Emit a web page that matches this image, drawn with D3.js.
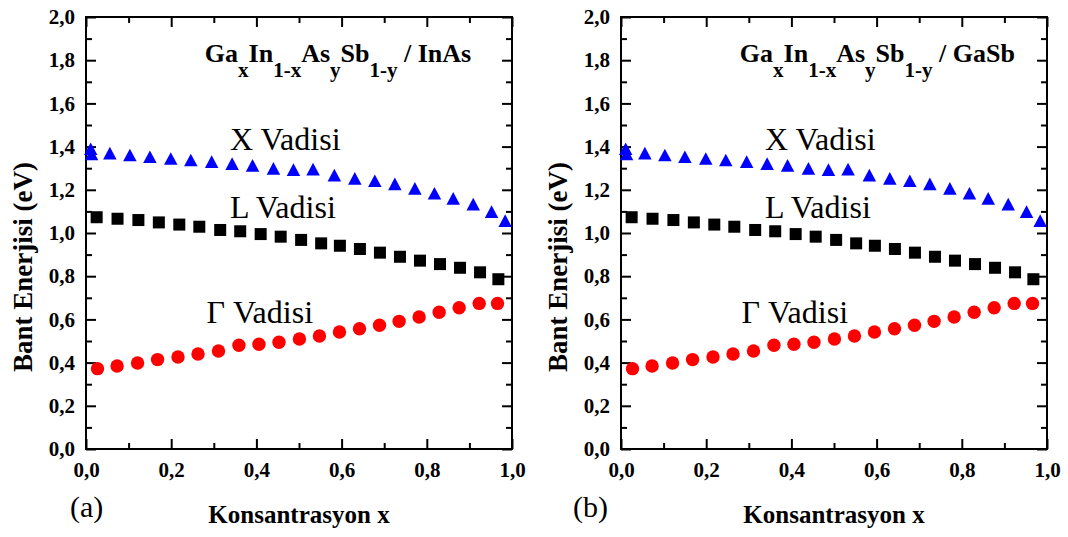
<!DOCTYPE html>
<html>
<head>
<meta charset="utf-8">
<script src="https://cdn.jsdelivr.net/npm/d3@7"></script>
<style>
  html, body { margin: 0; padding: 0; background: #fff; }
  svg { display: block; }
</style>
</head>
<body>
<svg id="chart" width="1068" height="537"></svg>
<script>
// ---------------- data ----------------
const xTicks = [0.0, 0.2, 0.4, 0.6, 0.8, 1.0];
const yTicks = [0.0, 0.2, 0.4, 0.6, 0.8, 1.0, 1.2, 1.4, 1.6, 1.8, 2.0];
const xMinor = [0.1, 0.3, 0.5, 0.7, 0.9];
const yMinor = [0.1, 0.3, 0.5, 0.7, 0.9, 1.1, 1.3, 1.5, 1.7, 1.9];

// X valley (blue triangles)
const xValleyConc = [0.011, 0.013, 0.056, 0.103, 0.150, 0.199, 0.246, 0.295, 0.343, 0.391, 0.440, 0.487,
                     0.533, 0.583, 0.631, 0.678, 0.725, 0.772, 0.818, 0.862, 0.909, 0.952, 0.984];
const xValleyE    = [1.390, 1.366, 1.370, 1.361, 1.353, 1.345, 1.338, 1.330, 1.321, 1.313, 1.299, 1.293,
                     1.296, 1.268, 1.253, 1.242, 1.227, 1.207, 1.184, 1.160, 1.134, 1.099, 1.057];
// L valley (black squares)
const lValleyConc = [0.025, 0.074, 0.123, 0.171, 0.219, 0.266, 0.315, 0.362, 0.410, 0.457, 0.505,
                     0.552, 0.596, 0.643, 0.690, 0.737, 0.784, 0.831, 0.878, 0.925, 0.968];
const lValleyE    = [1.073, 1.066, 1.060, 1.049, 1.039, 1.029, 1.014, 1.008, 0.995, 0.983, 0.968,
                     0.952, 0.941, 0.926, 0.909, 0.890, 0.872, 0.856, 0.839, 0.818, 0.786];
// Gamma valley (red circles)
const gValleyConc = [0.027, 0.073, 0.121, 0.168, 0.216, 0.263, 0.311, 0.359, 0.406, 0.453, 0.501,
                     0.548, 0.595, 0.642, 0.689, 0.735, 0.782, 0.829, 0.876, 0.923, 0.966];
const gValleyE    = [0.372, 0.384, 0.398, 0.414, 0.426, 0.440, 0.454, 0.480, 0.485, 0.494, 0.509,
                     0.523, 0.542, 0.557, 0.573, 0.591, 0.611, 0.633, 0.654, 0.674, 0.674];

const panelSubstrates = ["InAs", "GaSb"];
const panelTags = ["(a)", "(b)"];
const xAxisTitle = "Konsantrasyon x";
const yAxisTitle = "Bant Enerjisi (eV)";
const valleyLabels = ["X Vadisi", "L Vadisi", "\u0393 Vadisi"];

// ---------------- drawing ----------------
const svg = d3.select("#chart");
const serif = "'Liberation Serif', 'Times New Roman', Times, serif";
const fmt = d => d3.format(".1f")(d).replace(".", ",");

const plotW = 426, plotH = 432, plotTop = 17;
const panelLeft = [86, 621];

panelSubstrates.forEach((sub, i) => {
  const g = svg.append("g").attr("transform", `translate(${panelLeft[i]},${plotTop})`)
    .attr("font-family", serif);
  const x = d3.scaleLinear().domain([0, 1]).range([0, plotW]);
  const y = d3.scaleLinear().domain([0, 2]).range([plotH, 0]);

  const styleAxis = sel => {
    sel.attr("font-family", serif);
    sel.select(".domain").remove();
    sel.selectAll(".tick line").attr("stroke", "#000").attr("stroke-width", 2);
    sel.selectAll(".tick text").attr("font-family", serif).attr("font-weight", "bold")
       .attr("font-size", 21).attr("fill", "#000");
  };
  g.append("g").attr("transform", `translate(0,${plotH})`)
    .call(d3.axisBottom(x).tickValues(xTicks).tickFormat(fmt).tickSize(-10).tickPadding(13)).call(styleAxis);
  g.append("g")
    .call(d3.axisLeft(y).tickValues(yTicks).tickFormat(fmt).tickSize(-10).tickPadding(11)).call(styleAxis);
  g.append("g")
    .call(d3.axisTop(x).tickValues(xTicks).tickFormat("").tickSize(-10)).call(styleAxis);
  g.append("g").attr("transform", `translate(${plotW},0)`)
    .call(d3.axisRight(y).tickValues(yTicks).tickFormat("").tickSize(-10)).call(styleAxis);
  g.append("g").attr("transform", `translate(0,${plotH})`)
    .call(d3.axisBottom(x).tickValues(xMinor).tickFormat("").tickSize(-6)).call(styleAxis);
  g.append("g")
    .call(d3.axisTop(x).tickValues(xMinor).tickFormat("").tickSize(-6)).call(styleAxis);
  g.append("g")
    .call(d3.axisLeft(y).tickValues(yMinor).tickFormat("").tickSize(-6)).call(styleAxis);
  g.append("g").attr("transform", `translate(${plotW},0)`)
    .call(d3.axisRight(y).tickValues(yMinor).tickFormat("").tickSize(-6)).call(styleAxis);

  g.append("rect").attr("x", 0).attr("y", 0).attr("width", plotW).attr("height", plotH)
    .attr("fill", "none").attr("stroke", "#000").attr("stroke-width", 2);

  g.append("g").selectAll("circle").data(d3.zip(gValleyConc, gValleyE)).join("circle")
    .attr("cx", d => x(d[0])).attr("cy", d => y(d[1])).attr("r", 6.7).attr("fill", "#ff0000");
  const sq = 12;
  g.append("g").selectAll("rect").data(d3.zip(lValleyConc, lValleyE)).join("rect")
    .attr("x", d => x(d[0]) - sq / 2).attr("y", d => y(d[1]) - sq / 2)
    .attr("width", sq).attr("height", sq).attr("fill", "#000");
  const tw = 13.5, th = 12.7;
  const triPath = `M0,${-th / 2}L${tw / 2},${th / 2}L${-tw / 2},${th / 2}Z`;
  g.append("g").selectAll("path").data(d3.zip(xValleyConc, xValleyE)).join("path")
    .attr("transform", d => `translate(${x(d[0])},${y(d[1])})`)
    .attr("d", triPath).attr("fill", "#0000ff");

  const labelPos = [[0.338, 1.384], [0.338, 1.068], [0.283, 0.582]];
  valleyLabels.forEach((t, k) => {
    g.append("text").attr("x", x(labelPos[k][0])).attr("y", y(labelPos[k][1]))
      .attr("font-family", serif).attr("font-size", 32).attr("fill", "#000").text(t);
  });

  const title = g.append("text").attr("x", x(0.279)).attr("y", y(1.793))
    .attr("font-family", serif).attr("font-weight", "bold").attr("font-size", 26).attr("fill", "#000");
  const parts = [["Ga", 0], ["x", 1], ["In", 0], ["1-x", 1], ["As", 0], ["y", 1], ["Sb", 0], ["1-y", 1], [" / " + sub, 0]];
  let prev = 0;
  parts.forEach(([t, s]) => {
    const shift = s ? 15 : 0;
    title.append("tspan").attr("dy", shift - prev).attr("font-size", s ? 21 : 26).text(t);
    prev = shift;
  });

  g.append("text").attr("x", plotW / 2).attr("y", 506)
    .attr("text-anchor", "middle").attr("font-family", serif).attr("font-weight", "bold")
    .attr("font-size", 25).attr("fill", "#000").text(xAxisTitle);
  g.append("text").attr("transform", `translate(-54,${250})rotate(-90)`)
    .attr("text-anchor", "middle").attr("font-family", serif).attr("font-weight", "bold")
    .attr("font-size", 27).attr("fill", "#000").text(yAxisTitle);

  g.append("text").attr("x", i === 0 ? -16 : -48).attr("y", 500)
    .attr("font-family", serif).attr("font-size", 30).attr("fill", "#000").text(panelTags[i]);
});
</script>
</body>
</html>
